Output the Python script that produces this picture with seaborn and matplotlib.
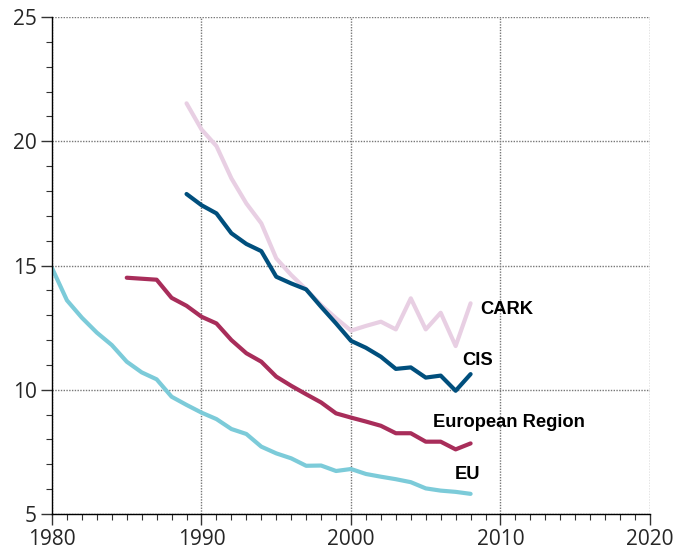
import matplotlib
matplotlib.use("Agg")
import matplotlib.pyplot as plt
import seaborn as sns
import pandas as pd
from matplotlib.ticker import MultipleLocator

eu_years = list(range(1980, 2009))
eu_vals = [14.9, 13.6, 12.9, 12.3, 11.8, 11.13, 10.7, 10.42, 9.72, 9.39, 9.08, 8.82,
           8.42, 8.22, 7.71, 7.44, 7.24, 6.94, 6.95, 6.73, 6.81, 6.61, 6.5, 6.4,
           6.28, 6.03, 5.94, 5.89, 5.81]

eur_years = list(range(1985, 2009))
eur_vals = [14.51, 14.47, 14.43, 13.7, 13.38, 12.94, 12.67, 12.0, 11.47, 11.13,
            10.53, 10.16, 9.82, 9.49, 9.05, 8.88, 8.72, 8.55, 8.25, 8.25, 7.91,
            7.91, 7.6, 7.84]

cis_years = list(range(1989, 2009))
cis_vals = [17.88, 17.43, 17.1, 16.3, 15.87, 15.58, 14.55, 14.28, 14.04, 13.34,
            12.67, 11.97, 11.69, 11.33, 10.84, 10.9, 10.49, 10.57, 9.96, 10.63]

cark_years = list(range(1989, 2009))
cark_vals = [21.53, 20.48, 19.81, 18.51, 17.5, 16.7, 15.29, 14.62, 14.04, 13.41,
             12.88, 12.38, 12.57, 12.74, 12.43, 13.68, 12.43, 13.1, 11.76, 13.48]

series_names = ["CARK", "CIS", "European Region", "EU"]
colors = {"CARK": "#e8cfe3", "CIS": "#004f7d", "European Region": "#a82d5a", "EU": "#7ccbd9"}
label_pos = {"CARK": (2008.63, 13.25), "CIS": (2007.47, 11.17),
             "European Region": (2005.49, 8.67), "EU": (2006.96, 6.57)}

rows = []
for name, yrs, vals in [("CARK", cark_years, cark_vals), ("CIS", cis_years, cis_vals),
                        ("European Region", eur_years, eur_vals), ("EU", eu_years, eu_vals)]:
    for y, v in zip(yrs, vals):
        rows.append({"year": y, "value": v, "region": name})
df = pd.DataFrame(rows)

sns.set_style("ticks")
fig = plt.figure(figsize=(6.85, 5.49), dpi=100)
ax = fig.add_axes([0.0759, 0.0638, 0.873, 0.905])

sns.lineplot(data=df, x="year", y="value", hue="region", hue_order=series_names,
             palette=colors, linewidth=3.0, ax=ax, legend=False)

ax.set_xlim(1980, 2020)
ax.set_ylim(5, 25)
ax.xaxis.set_major_locator(MultipleLocator(10))
ax.xaxis.set_minor_locator(MultipleLocator(1))
ax.yaxis.set_major_locator(MultipleLocator(5))
ax.yaxis.set_minor_locator(MultipleLocator(1))
ax.grid(True, which="major", color="#777777", linestyle=(0, (1, 1)), linewidth=1.0)
ax.set_axisbelow(True)
for s in ["top", "right"]:
    ax.spines[s].set_visible(False)
for s in ["left", "bottom"]:
    ax.spines[s].set_color("black")
    ax.spines[s].set_linewidth(1.0)
ax.tick_params(which="major", direction="out", length=8, width=1, color="#333333",
               labelsize=15, pad=3, bottom=True, left=True)
ax.tick_params(which="minor", direction="out", length=4, width=0.8, color="#333333",
               bottom=True, left=True)
for lab in ax.get_xticklabels() + ax.get_yticklabels():
    lab.set_fontfamily("Open Sans")
ax.set_xlabel("")
ax.set_ylabel("")

for name in series_names:
    x, y = label_pos[name]
    ax.text(x, y, name, fontsize=13.2, fontweight="bold", family="Liberation Sans",
            va="center", ha="left", color="black")

fig.savefig("out.png", dpi=100)
